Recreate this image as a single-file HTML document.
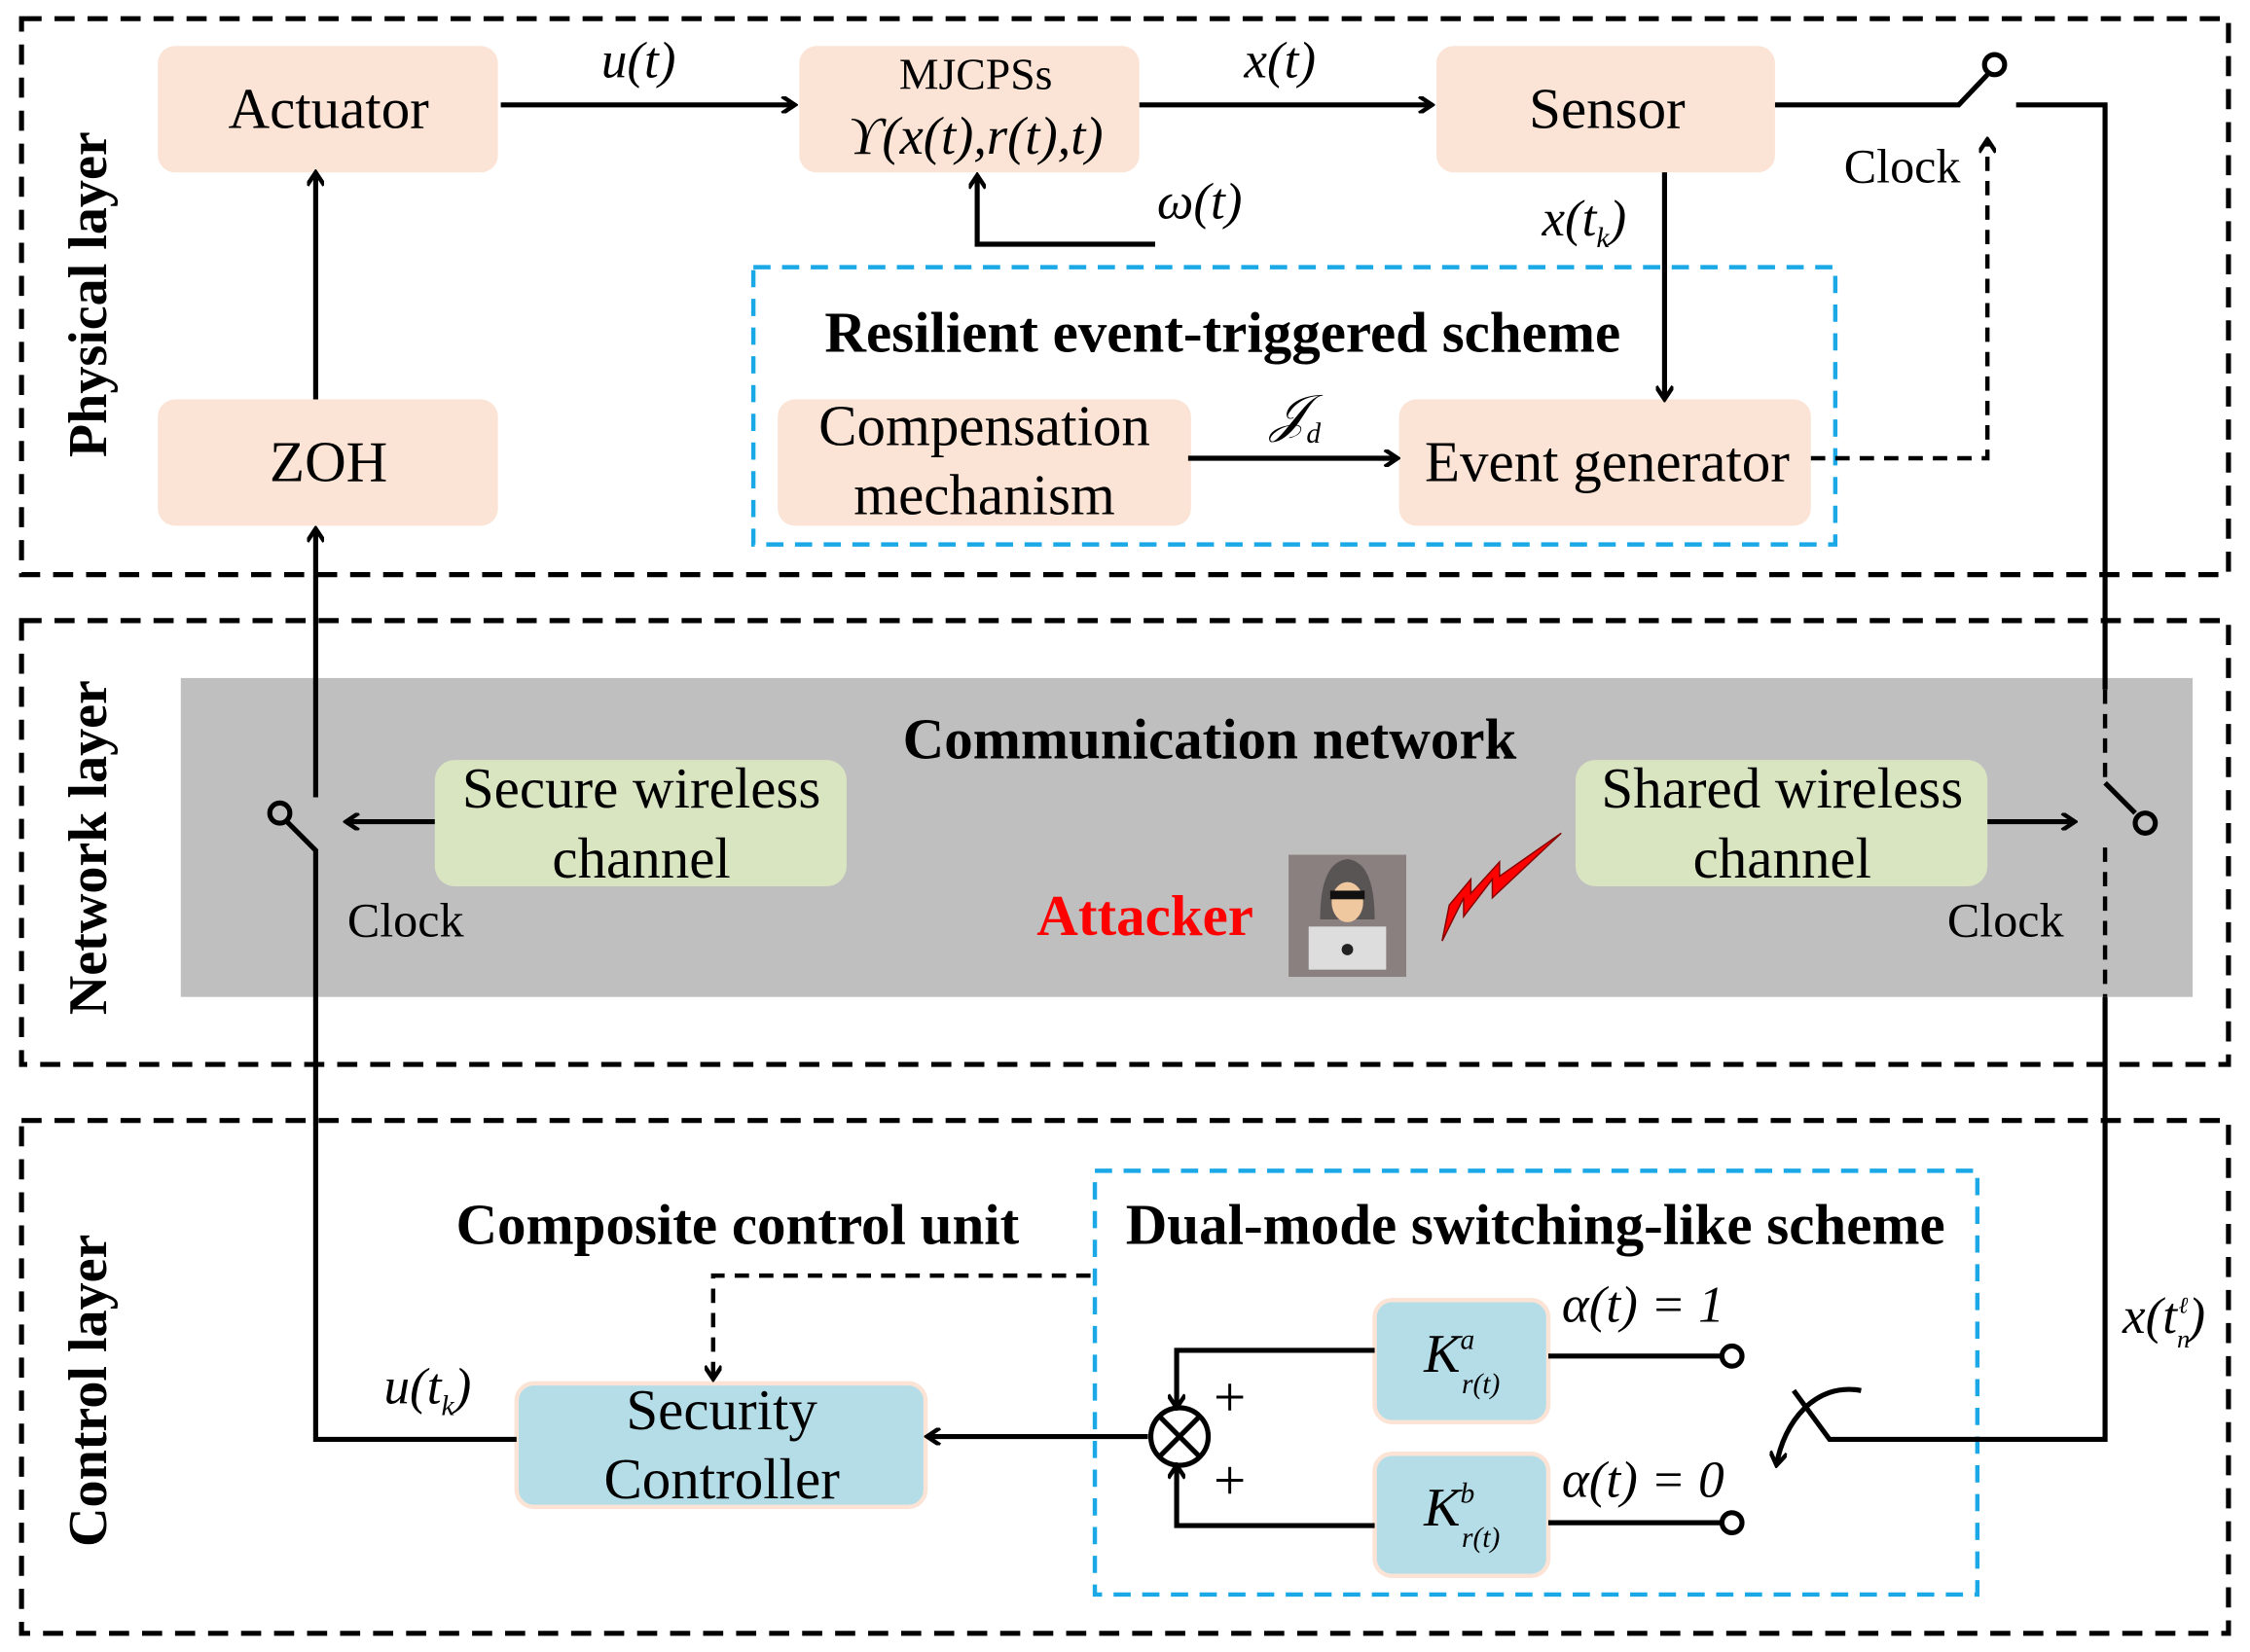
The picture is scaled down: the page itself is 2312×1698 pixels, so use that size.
<!DOCTYPE html>
<html><head><meta charset="utf-8"><style>
html,body{margin:0;padding:0;background:#fff;}
svg{display:block;}
text{font-family:"Liberation Serif",serif;}
</style></head><body>
<svg width="2312" height="1698" viewBox="0 0 1568 1150" preserveAspectRatio="none" xmlns="http://www.w3.org/2000/svg">
<defs>
<marker id="ar" markerWidth="12" markerHeight="12" refX="10" refY="6" orient="auto" markerUnits="userSpaceOnUse">
<path d="M1,0 L10,6 L1,12" fill="none" stroke="#000" stroke-width="3"/>
</marker>
</defs>
<rect width="1568" height="1150" fill="#fff"/>
<g fill="none" stroke="#000" stroke-width="3.5" stroke-dasharray="14,9">
<rect x="15" y="13" width="1538" height="387"/>
<rect x="15" y="432" width="1538" height="309"/>
<rect x="15" y="780" width="1538" height="357"/>
</g>
<g font-weight="bold" font-size="38" text-anchor="middle">
<text transform="translate(74,205) rotate(-90)">Physical layer</text>
<text transform="translate(74,590) rotate(-90)">Network layer</text>
<text transform="translate(74,968) rotate(-90)">Control layer</text>
</g>
<rect x="126" y="472" width="1402" height="222" fill="#bfbfbf"/>
<g fill="none" stroke="#1aa9e6" stroke-width="3" stroke-dasharray="12,8">
<rect x="525" y="186" width="754" height="193"/>
<rect x="763" y="815" width="615" height="295"/>
</g>
<g fill="#fbe4d5">
<rect x="110" y="32" width="237" height="88" rx="12"/>
<rect x="557" y="32" width="237" height="88" rx="12"/>
<rect x="1001" y="32" width="236" height="88" rx="12"/>
<rect x="110" y="278" width="237" height="88" rx="12"/>
<rect x="542" y="278" width="288" height="88" rx="12"/>
<rect x="975" y="278" width="287" height="88" rx="12"/>
</g>
<g fill="#d9e4c1">
<rect x="303" y="529" width="287" height="88" rx="14"/>
<rect x="1098" y="529" width="287" height="88" rx="14"/>
</g>
<g fill="#b5dde8" stroke="#fbe4d5" stroke-width="3">
<rect x="360" y="963" width="285" height="86" rx="12"/>
<rect x="958" y="905" width="121" height="85" rx="12"/>
<rect x="958" y="1012" width="121" height="85" rx="12"/>
</g>
<g font-size="40" text-anchor="middle">
<text x="229" y="89">Actuator</text>
<text x="1120" y="89">Sensor</text>
<text x="229" y="335">ZOH</text>
<text x="686" y="310">Compensation</text>
<text x="686" y="358">mechanism</text>
<text x="1120" y="335">Event generator</text>
<text x="447" y="562">Secure wireless</text>
<text x="447" y="611">channel</text>
<text x="1242" y="562">Shared wireless</text>
<text x="1242" y="611">channel</text>
<text x="503" y="995">Security</text>
<text x="503" y="1043">Controller</text>
</g>
<text x="680" y="62" font-size="31" text-anchor="middle">MJCPSs</text>
<text x="680" y="107" font-size="37" text-anchor="middle" font-style="italic">ϒ(x(t),r(t),t)</text>
<g font-weight="bold" font-size="40" text-anchor="middle">
<text x="852" y="245">Resilient event-triggered scheme</text>
<text x="843" y="528">Communication network</text>
<text x="514" y="866">Composite control unit</text>
<text x="1070" y="866">Dual-mode switching-like scheme</text>
<text x="798" y="651" fill="#ff0000">Attacker</text>
</g>
<g font-size="36" font-style="italic" text-anchor="middle">
<text x="445" y="54">u(t)</text>
<text x="892" y="54">x(t)</text>
<text x="836" y="152">ω(t)</text>
<text x="1104" y="164">x(t<tspan font-size="20" dy="8">k</tspan><tspan dy="-8">)</tspan></text>
<text x="903" y="300">𝒥<tspan font-size="20" dy="8">d</tspan></text>
<text x="298" y="977">u(t<tspan font-size="20" dy="8">k</tspan><tspan dy="-8">)</tspan></text>
<text x="1508" y="928">x(t<tspan font-size="18" dy="10">n</tspan><tspan font-size="16" dx="-8" dy="-24">ℓ</tspan><tspan dy="14">)</tspan></text>
<text x="1145" y="920">α(t) = 1</text>
<text x="1145" y="1042">α(t) = 0</text>
<text x="1010" y="955" font-size="38">K<tspan font-size="20" dy="-16">a</tspan></text>
<text x="1032" y="970" font-size="20">r(t)</text>
<text x="1010" y="1062" font-size="38">K<tspan font-size="20" dy="-16">b</tspan></text>
<text x="1032" y="1077" font-size="20">r(t)</text>
</g>
<g font-size="34">
<text x="1285" y="127">Clock</text>
<text x="242" y="652">Clock</text>
<text x="1357" y="652">Clock</text>
</g>
<g fill="none" stroke="#000" stroke-width="3.5">
<line x1="349" y1="73" x2="554" y2="73" marker-end="url(#ar)"/>
<line x1="794" y1="73" x2="998" y2="73" marker-end="url(#ar)"/>
<polyline points="805,170 681,170 681,122" marker-end="url(#ar)"/>
<line x1="1160" y1="120" x2="1160" y2="278" marker-end="url(#ar)"/>
<line x1="828" y1="319" x2="974" y2="319" marker-end="url(#ar)"/>
<polyline points="1237,73 1365,73 1385,52"/>
<circle cx="1390" cy="45" r="7"/>
<polyline points="1405,73 1467,73 1467,480"/>
<line x1="220" y1="278" x2="220" y2="120" marker-end="url(#ar)"/>
<polyline points="220,555 220,368" marker-end="url(#ar)"/>
<circle cx="195" cy="566" r="7"/>
<polyline points="200,572 220,592 220,1002 360,1002"/>
<line x1="303" y1="572" x2="241" y2="572" marker-end="url(#ar)"/>
<line x1="1385" y1="572" x2="1446" y2="572" marker-end="url(#ar)"/>
<circle cx="1495" cy="573" r="7"/>
<line x1="1467" y1="545" x2="1488" y2="566"/>
<polyline points="1467,694 1467,1002 1275,1002 1250,968"/>
<path d="M1297,968 C1265,962 1243,990 1238,1020" marker-end="url(#ar)"/>
<line x1="800" y1="1000" x2="646" y2="1000" marker-end="url(#ar)"/>
<circle cx="822" cy="1000" r="20"/>
<line x1="808" y1="986" x2="836" y2="1014"/><line x1="836" y1="986" x2="808" y2="1014"/>
<polyline points="958,940 820,940 820,980" marker-end="url(#ar)"/>
<polyline points="958,1062 820,1062 820,1020" marker-end="url(#ar)"/>
<line x1="1079" y1="944" x2="1199" y2="944"/><circle cx="1207" cy="944" r="7"/>
<line x1="1079" y1="1060" x2="1199" y2="1060"/><circle cx="1207" cy="1060" r="7"/>
</g>
<g fill="none" stroke="#000" stroke-width="3" stroke-dasharray="10,7">
<polyline points="1262,319 1385,319 1385,97" marker-end="url(#ar)"/>
<line x1="1467" y1="480" x2="1467" y2="545"/>
<line x1="1467" y1="590" x2="1467" y2="694"/>
<polyline points="760,888 497,888 497,960" marker-end="url(#ar)"/>
</g>
<g font-size="40" text-anchor="middle"><text x="857" y="986">+</text><text x="857" y="1044">+</text></g>
<rect x="898" y="595" width="82" height="85" fill="#8a8080"/>
<path d="M920,640 Q920,600 939,598 Q958,600 958,640 Z" fill="#5a5555"/>
<ellipse cx="939" cy="628" rx="11" ry="14" fill="#f0c8a0"/>
<rect x="927" y="620" width="24" height="6" fill="#111"/>
<path d="M915,665 Q939,640 963,665 Z" fill="#555"/>
<rect x="912" y="645" width="54" height="30" fill="#ddd"/>
<circle cx="939" cy="661" r="4" fill="#222"/>
<polygon points="1088,580 1040,625 1040,612 1020,638 1020,625 1005,655 1010,630 1025,612 1025,622 1045,600 1045,610" fill="#ff0000" stroke="#800" stroke-width="1"/>
</svg>
</body></html>
